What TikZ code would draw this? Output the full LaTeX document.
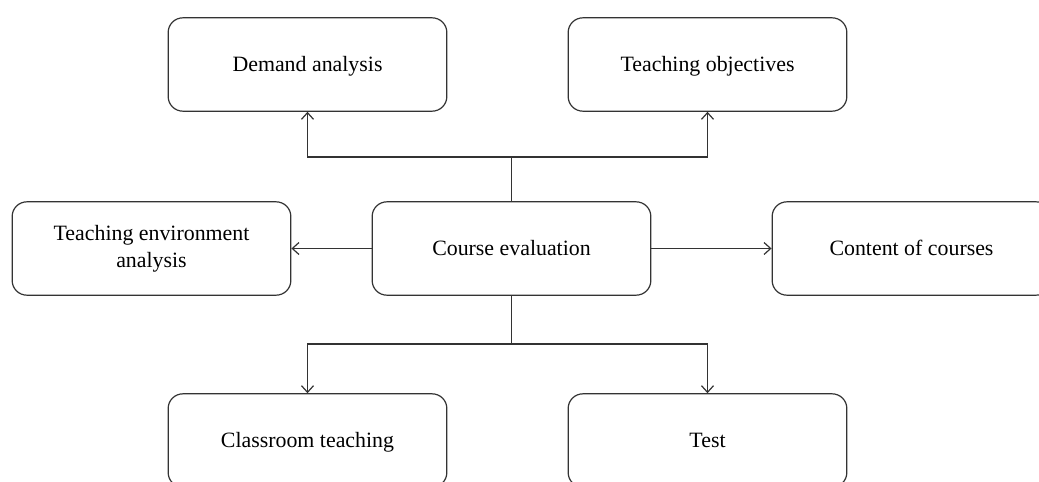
\documentclass[tikz,border=0pt]{standalone}
\usepackage{fontspec}
\setmainfont{Liberation Serif}
\usetikzlibrary{arrows.meta,positioning}

\tikzset{
  box/.style={draw=black!80, line width=0.9pt, rounded corners=11pt, fill=white,
    minimum width=209pt, minimum height=70pt, align=center, inner sep=2pt,
    font=\fontsize{16.4}{20}\selectfont},
  block/.style={box, text height=14.8pt, text depth=4pt},
  link/.style={draw=black!80, line width=0.9pt},
  arr/.style={link, -{Straight Barb[length=5pt,width=9pt]}}
}

\begin{document}
\begin{tikzpicture}[x=0.75pt,y=-0.75pt]
  \useasboundingbox (0,0) rectangle (1039,482);
  \clip (0,0) rectangle (1039,482);
  \fill[white] (0,0) rectangle (1039,482);

  % top row
  \node[block] (demand) at (307.5,64.5) {Demand analysis};
  \node[block] (objectives) at (707.5,64.5) {Teaching objectives};
  % middle row
  \node[box] (environment) at (151.5,248.5) {Teaching environment\\analysis};
  \node[block] (evaluation) at (511.5,248.5) {Course evaluation};
  \node[block] (content) at (911.5,248.5) {Content of courses};
  % bottom row
  \node[block] (classroom) at (307.5,440.5) {Classroom teaching};
  \node[block] (test) at (707.5,440.5) {Test};

  \coordinate (upfork) at (511.5,157);
  \coordinate (downfork) at (511.5,344);

  \draw[link] (evaluation) -- (upfork);
  \draw[arr] (upfork) -| (demand);
  \draw[arr] (upfork) -| (objectives);
  \draw[arr] (evaluation) -- (environment);
  \draw[arr] (evaluation) -- (content);
  \draw[link] (evaluation) -- (downfork);
  \draw[arr] (downfork) -| (classroom);
  \draw[arr] (downfork) -| (test);
\end{tikzpicture}
\end{document}
